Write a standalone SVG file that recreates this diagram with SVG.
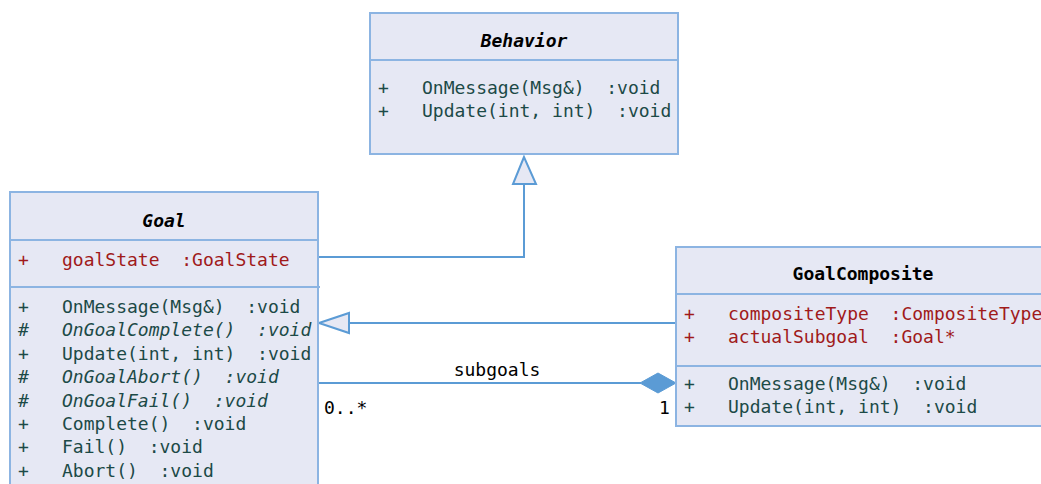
<svg xmlns="http://www.w3.org/2000/svg" width="1041" height="484" viewBox="0 0 1041 484">
<defs>
<style>
.box{fill:#E6E8F4;stroke:#8CB4E2;stroke-width:2}
.div{stroke:#8CB4E2;stroke-width:2;fill:none}
.t{font-family:"DejaVu Sans Mono","Liberation Mono",monospace;font-size:18px}
.title{font-weight:bold;fill:#000}
.it{font-style:italic}
.m{fill:#1C4A47}
.a{fill:#A01A1A}
.lbl{fill:#000}
.edge{stroke:#5B9BD5;stroke-width:2;fill:none}
.tri{fill:#E6E8F4;stroke:#5B9BD5;stroke-width:2}
.dia{fill:#5B9BD5;stroke:#5B9BD5;stroke-width:1}
</style>
</defs>
<g id="connectors">
<polyline class="edge" points="318,257 524,257 524,184"/>
<polygon class="tri" points="524,157 513,184 536,184"/>
<line class="edge" x1="676" y1="323" x2="349" y2="323"/>
<polygon class="tri" points="319,323 349,313 349,333"/>
<line class="edge" x1="318" y1="383" x2="641" y2="383"/>
<polygon class="dia" points="676,383 658,373 640,383 658,393"/>
<text class="t lbl" x="497" y="376" text-anchor="middle">subgoals</text>
<text class="t lbl" x="324" y="414">0..*</text>
<text class="t lbl" x="659" y="414">1</text>
</g>
<g id="Behavior">
<rect class="box" x="370" y="13" width="308" height="141"/>
<line class="div" x1="370" y1="60" x2="678" y2="60"/>
<text class="t title it" x="524" y="47" text-anchor="middle">Behavior</text>
<text class="t m" x="378" y="94">+</text>
<text class="t m" x="422" y="94" xml:space="preserve">OnMessage(Msg&amp;)  :void</text>
<text class="t m" x="378" y="117">+</text>
<text class="t m" x="422" y="117" xml:space="preserve">Update(int, int)  :void</text>
</g>
<g id="Goal">
<rect class="box" x="10" y="192" width="308" height="300"/>
<line class="div" x1="10" y1="240" x2="318" y2="240"/>
<line class="div" x1="10" y1="287" x2="320" y2="287"/>
<text class="t title it" x="164" y="227" text-anchor="middle">Goal</text>
<text class="t a" x="18" y="266">+</text>
<text class="t a" x="62" y="266" xml:space="preserve">goalState  :GoalState</text>
<text class="t m" x="18" y="313">+</text>
<text class="t m" x="62" y="313" xml:space="preserve">OnMessage(Msg&amp;)  :void</text>
<text class="t m" x="18" y="336">#</text>
<text class="t m it" x="62" y="336" xml:space="preserve">OnGoalComplete()  :void</text>
<text class="t m" x="18" y="360">+</text>
<text class="t m" x="62" y="360" xml:space="preserve">Update(int, int)  :void</text>
<text class="t m" x="18" y="383">#</text>
<text class="t m it" x="62" y="383" xml:space="preserve">OnGoalAbort()  :void</text>
<text class="t m" x="18" y="407">#</text>
<text class="t m it" x="62" y="407" xml:space="preserve">OnGoalFail()  :void</text>
<text class="t m" x="18" y="430">+</text>
<text class="t m" x="62" y="430" xml:space="preserve">Complete()  :void</text>
<text class="t m" x="18" y="453">+</text>
<text class="t m" x="62" y="453" xml:space="preserve">Fail()  :void</text>
<text class="t m" x="18" y="477">+</text>
<text class="t m" x="62" y="477" xml:space="preserve">Abort()  :void</text>
</g>
<g id="GoalComposite">
<rect class="box" x="676" y="247" width="380" height="179"/>
<line class="div" x1="676" y1="294" x2="1056" y2="294"/>
<line class="div" x1="676" y1="366" x2="1056" y2="366"/>
<text class="t title" x="863" y="280" text-anchor="middle">GoalComposite</text>
<text class="t a" x="684" y="320">+</text>
<text class="t a" x="728" y="320" xml:space="preserve">compositeType  :CompositeType</text>
<text class="t a" x="684" y="343">+</text>
<text class="t a" x="728" y="343" xml:space="preserve">actualSubgoal  :Goal*</text>
<text class="t m" x="684" y="390">+</text>
<text class="t m" x="728" y="390" xml:space="preserve">OnMessage(Msg&amp;)  :void</text>
<text class="t m" x="684" y="413">+</text>
<text class="t m" x="728" y="413" xml:space="preserve">Update(int, int)  :void</text>
</g>
</svg>
